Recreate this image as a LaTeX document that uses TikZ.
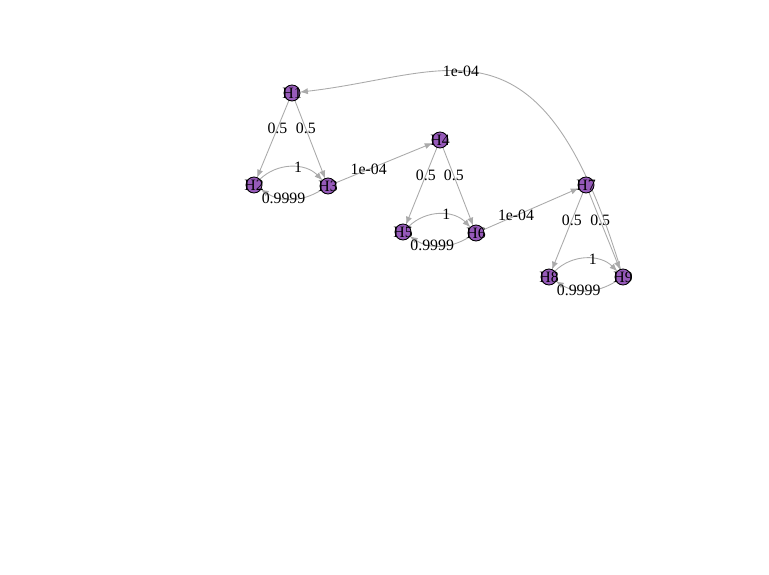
\documentclass[tikz,border=0pt]{standalone}
\usepackage{fontspec}
\setmainfont{Liberation Serif}
\usepackage{tikz-network}
\usetikzlibrary{arrows.meta,backgrounds}

\definecolor{hpurple}{RGB}{150,90,185}
\definecolor{egray}{RGB}{170,170,170}
\newcommand{\hfont}{\fontsize{9}{10}\selectfont}
\newcommand{\hname}[1]{\smash{\makebox[0pt]{\raisebox{-0.33em}{#1}}}}

\tikzset{
  elabel/.style={font=\hfont,text=black,inner sep=1pt},
  backedge/.style={draw=egray,line width=0.5pt,-{Latex[length=4.5pt,width=3.5pt]}}
}

\begin{document}
\begin{tikzpicture}
				\useasboundingbox (0,0) rectangle (15.38,11.48);
				\SetVertexStyle[MinSize=0.32cm,FillColor=hpurple,LineWidth=0.5pt,TextFont=\hfont]
				\SetEdgeStyle[Color=egray,LineWidth=0.5pt,TextFont=\hfont,TextFillOpacity=0,Arrow={-{Latex[length=4.5pt,width=3.5pt]}}]
				\Vertex[label=\hname{H1},x=5.84,y=9.62]{H1}
				\Vertex[label=\hname{H2},x=5.08,y=7.78]{H2}
				\Vertex[label=\hname{H3},x=6.56,y=7.76]{H3}
				\Vertex[label=\hname{H4},x=8.80,y=8.68]{H4}
				\Vertex[label=\hname{H5},x=8.06,y=6.84]{H5}
				\Vertex[label=\hname{H6},x=9.52,y=6.82]{H6}
				\Vertex[label=\hname{H7},x=11.72,y=7.78]{H7}
				\Vertex[label=\hname{H8},x=10.98,y=5.94]{H8}
				\Vertex[label=\hname{H9},x=12.46,y=5.94]{H9}
				\Edge[Direct,fontcolor=black,label=0.5,distance=0.35](H1)(H2)
				\Edge[Direct,fontcolor=black,label=0.5,distance=0.35](H1)(H3)
				\Edge[Direct,fontcolor=black,label=1,bend=45,distance=0.6](H2)(H3)
				\Edge[Direct,fontcolor=black,label=0.9999,bend=32,distance=0.62](H3)(H2)
				\Edge[Direct,fontcolor=black,label=1e-04,distance=0.33](H3)(H4)
				\Edge[Direct,fontcolor=black,label=0.5,distance=0.35](H4)(H5)
				\Edge[Direct,fontcolor=black,label=0.5,distance=0.35](H4)(H6)
				\Edge[Direct,fontcolor=black,label=1,bend=45,distance=0.6](H5)(H6)
				\Edge[Direct,fontcolor=black,label=0.9999,bend=32,distance=0.62](H6)(H5)
				\Edge[Direct,fontcolor=black,label=1e-04,distance=0.33](H6)(H7)
				\Edge[Direct,fontcolor=black,label=0.5,distance=0.35](H7)(H8)
				\Edge[Direct,fontcolor=black,label=0.5,distance=0.35](H7)(H9)
				\Edge[Direct,fontcolor=black,label=1,bend=45,distance=0.6](H8)(H9)
				\Edge[Direct,fontcolor=black,label=0.9999,bend=32,distance=0.62](H9)(H8)
				% long way back
				\begin{scope}[on background layer]
				\draw[backedge] (H9) .. controls (10.8,11.4) and (9.0,9.98) .. (H1)
					node[elabel,pos=0.58]{1e-04};
				\end{scope}
			\end{tikzpicture}
\end{document}
